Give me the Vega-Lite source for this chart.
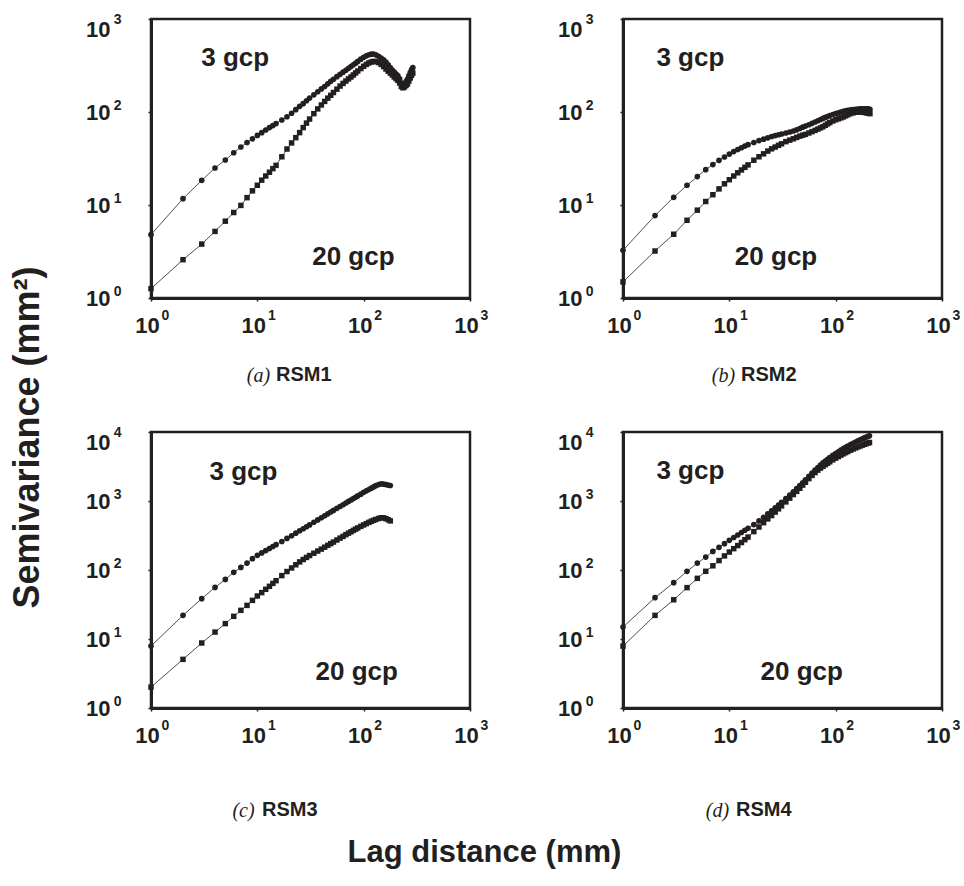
{
"$schema": "https://vega.github.io/schema/vega-lite/v6.json",
"background": "white",
"padding": {"left": 7, "top": 10, "right": 5, "bottom": 5},
"title": {"text": "Lag distance (mm)", "orient": "bottom", "anchor": "middle", "font": "Liberation Sans", "fontSize": 31, "fontWeight": "bold", "color": "#231f20", "offset": 17},
"config": {
 "view": {"stroke": "#231f20", "strokeWidth": 2.5},
 "axis": {"grid": false, "domainColor": "#231f20", "domainWidth": 3, "tickColor": "#231f20", "tickSize": 3, "tickWidth": 1.5, "labelFont": "Liberation Sans", "labelFontWeight": "bold", "labelFontSize": 22, "labelColor": "#231f20", "titleColor": "#231f20", "labelFlush": false, "labelOverlap": false}
},
"datasets": {
 "lab": [
  {"p":"a","t":"3 gcp","x":6.2,"y":380},{"p":"a","t":"20 gcp","x":80,"y":2.76},
  {"p":"b","t":"3 gcp","x":4.3,"y":380},{"p":"b","t":"20 gcp","x":27.5,"y":2.76},
  {"p":"c","t":"3 gcp","x":7.4,"y":2630},{"p":"c","t":"20 gcp","x":86,"y":3.3},
  {"p":"d","t":"3 gcp","x":4.3,"y":2750},{"p":"d","t":"20 gcp","x":48,"y":3.3}
 ],
 "a": [
  {"g":"3","x":1,"y":4.8},{"g":"3","x":2,"y":11.7},{"g":"3","x":3,"y":18.4},{"g":"3","x":4,"y":25},{"g":"3","x":5,"y":30.5},{"g":"3","x":6,"y":36.5},{"g":"3","x":7,"y":42},{"g":"3","x":8,"y":47},{"g":"3","x":9,"y":51.5},{"g":"3","x":10,"y":56},{"g":"3","x":11,"y":60},{"g":"3","x":12,"y":64},{"g":"3","x":13,"y":68},{"g":"3","x":14,"y":71.5},{"g":"3","x":15,"y":75},{"g":"3","x":17,"y":82},{"g":"3","x":19,"y":89},{"g":"3","x":21,"y":97},{"g":"3","x":23,"y":106},{"g":"3","x":25,"y":115},{"g":"3","x":27,"y":123},{"g":"3","x":29,"y":132},{"g":"3","x":31,"y":141},{"g":"3","x":34,"y":153},{"g":"3","x":37,"y":165},{"g":"3","x":40,"y":177},{"g":"3","x":43,"y":188},{"g":"3","x":46,"y":201},{"g":"3","x":49,"y":214},{"g":"3","x":52,"y":225},{"g":"3","x":56,"y":240},{"g":"3","x":60,"y":254},{"g":"3","x":64,"y":268},{"g":"3","x":68,"y":281},{"g":"3","x":72,"y":295},{"g":"3","x":76,"y":308},{"g":"3","x":80,"y":322},{"g":"3","x":84,"y":335},{"g":"3","x":88,"y":350},{"g":"3","x":94,"y":370},{"g":"3","x":100,"y":388},{"g":"3","x":106,"y":402},{"g":"3","x":112,"y":413},{"g":"3","x":118,"y":419},{"g":"3","x":124,"y":420},{"g":"3","x":130,"y":412},{"g":"3","x":138,"y":398},{"g":"3","x":146,"y":380},{"g":"3","x":154,"y":365},{"g":"3","x":162,"y":345},{"g":"3","x":170,"y":322},{"g":"3","x":178,"y":300},{"g":"3","x":186,"y":282},{"g":"3","x":194,"y":268},{"g":"3","x":202,"y":256},{"g":"3","x":210,"y":245},{"g":"3","x":218,"y":228},{"g":"3","x":226,"y":205},{"g":"3","x":234,"y":190},{"g":"3","x":242,"y":196},{"g":"3","x":250,"y":212},{"g":"3","x":258,"y":226},{"g":"3","x":266,"y":245},{"g":"3","x":274,"y":265},{"g":"3","x":282,"y":285},{"g":"3","x":290,"y":300},
  {"g":"20","x":1,"y":1.26},{"g":"20","x":2,"y":2.58},{"g":"20","x":3,"y":3.8},{"g":"20","x":4,"y":5.2},{"g":"20","x":5,"y":6.7},{"g":"20","x":6,"y":8.3},{"g":"20","x":7,"y":9.9},{"g":"20","x":8,"y":12},{"g":"20","x":9,"y":14.2},{"g":"20","x":10,"y":16.3},{"g":"20","x":11,"y":18.5},{"g":"20","x":12,"y":20.5},{"g":"20","x":13,"y":22.5},{"g":"20","x":14,"y":24.6},{"g":"20","x":15,"y":26.7},{"g":"20","x":17,"y":33},{"g":"20","x":19,"y":40},{"g":"20","x":21,"y":46.5},{"g":"20","x":23,"y":53},{"g":"20","x":25,"y":60},{"g":"20","x":27,"y":68},{"g":"20","x":29,"y":76},{"g":"20","x":31,"y":84},{"g":"20","x":34,"y":96},{"g":"20","x":37,"y":108},{"g":"20","x":40,"y":119},{"g":"20","x":43,"y":130},{"g":"20","x":46,"y":141},{"g":"20","x":49,"y":151},{"g":"20","x":52,"y":162},{"g":"20","x":56,"y":176},{"g":"20","x":60,"y":190},{"g":"20","x":64,"y":203},{"g":"20","x":68,"y":215},{"g":"20","x":72,"y":227},{"g":"20","x":76,"y":238},{"g":"20","x":80,"y":250},{"g":"20","x":84,"y":263},{"g":"20","x":88,"y":276},{"g":"20","x":94,"y":293},{"g":"20","x":100,"y":310},{"g":"20","x":106,"y":325},{"g":"20","x":112,"y":337},{"g":"20","x":118,"y":345},{"g":"20","x":124,"y":350},{"g":"20","x":130,"y":348},{"g":"20","x":138,"y":340},{"g":"20","x":146,"y":325},{"g":"20","x":154,"y":308},{"g":"20","x":162,"y":290},{"g":"20","x":170,"y":275},{"g":"20","x":178,"y":262},{"g":"20","x":186,"y":250},{"g":"20","x":194,"y":238},{"g":"20","x":202,"y":228},{"g":"20","x":210,"y":219},{"g":"20","x":218,"y":205},{"g":"20","x":226,"y":188},{"g":"20","x":234,"y":182},{"g":"20","x":242,"y":186},{"g":"20","x":250,"y":193},{"g":"20","x":258,"y":200},{"g":"20","x":266,"y":215},{"g":"20","x":274,"y":232},{"g":"20","x":282,"y":248},{"g":"20","x":290,"y":262}
 ],
 "b": [
  {"g":"3","x":1,"y":3.26},{"g":"3","x":2,"y":7.7},{"g":"3","x":3,"y":12.1},{"g":"3","x":4,"y":16.3},{"g":"3","x":5,"y":20.2},{"g":"3","x":6,"y":24},{"g":"3","x":7,"y":27.2},{"g":"3","x":8,"y":30.2},{"g":"3","x":9,"y":32.8},{"g":"3","x":10,"y":35.3},{"g":"3","x":11,"y":37.5},{"g":"3","x":12,"y":39.5},{"g":"3","x":13,"y":41.3},{"g":"3","x":14,"y":43},{"g":"3","x":15,"y":44.5},{"g":"3","x":17,"y":47},{"g":"3","x":19,"y":49.3},{"g":"3","x":21,"y":51},{"g":"3","x":23,"y":52.7},{"g":"3","x":25,"y":54.5},{"g":"3","x":27,"y":55.8},{"g":"3","x":29,"y":57},{"g":"3","x":31,"y":58},{"g":"3","x":34,"y":59.5},{"g":"3","x":37,"y":61},{"g":"3","x":40,"y":62.5},{"g":"3","x":43,"y":64.3},{"g":"3","x":46,"y":66.5},{"g":"3","x":49,"y":68.7},{"g":"3","x":52,"y":70.5},{"g":"3","x":56,"y":73},{"g":"3","x":60,"y":75.5},{"g":"3","x":64,"y":78},{"g":"3","x":68,"y":80.5},{"g":"3","x":72,"y":83},{"g":"3","x":76,"y":85.3},{"g":"3","x":80,"y":87.5},{"g":"3","x":84,"y":89.5},{"g":"3","x":88,"y":91.5},{"g":"3","x":94,"y":94},{"g":"3","x":100,"y":96.3},{"g":"3","x":106,"y":98},{"g":"3","x":112,"y":100},{"g":"3","x":118,"y":101.5},{"g":"3","x":124,"y":103},{"g":"3","x":130,"y":104.5},{"g":"3","x":138,"y":105.5},{"g":"3","x":146,"y":106.5},{"g":"3","x":154,"y":107},{"g":"3","x":162,"y":107.5},{"g":"3","x":170,"y":108},{"g":"3","x":178,"y":108},{"g":"3","x":186,"y":108},{"g":"3","x":194,"y":108.5},{"g":"3","x":202,"y":108},{"g":"3","x":210,"y":107},
  {"g":"20","x":1,"y":1.49},{"g":"20","x":2,"y":3.2},{"g":"20","x":3,"y":4.85},{"g":"20","x":4,"y":6.85},{"g":"20","x":5,"y":8.8},{"g":"20","x":6,"y":10.9},{"g":"20","x":7,"y":12.9},{"g":"20","x":8,"y":14.9},{"g":"20","x":9,"y":16.9},{"g":"20","x":10,"y":18.7},{"g":"20","x":11,"y":20.5},{"g":"20","x":12,"y":22.2},{"g":"20","x":13,"y":23.8},{"g":"20","x":14,"y":25.4},{"g":"20","x":15,"y":27},{"g":"20","x":17,"y":30.3},{"g":"20","x":19,"y":33},{"g":"20","x":21,"y":35.5},{"g":"20","x":23,"y":38},{"g":"20","x":25,"y":40.2},{"g":"20","x":27,"y":42},{"g":"20","x":29,"y":43.8},{"g":"20","x":31,"y":45.5},{"g":"20","x":34,"y":48},{"g":"20","x":37,"y":49.8},{"g":"20","x":40,"y":51.5},{"g":"20","x":43,"y":53.3},{"g":"20","x":46,"y":55},{"g":"20","x":49,"y":56.3},{"g":"20","x":52,"y":57.5},{"g":"20","x":56,"y":59.5},{"g":"20","x":60,"y":61.5},{"g":"20","x":64,"y":63.5},{"g":"20","x":68,"y":65.5},{"g":"20","x":72,"y":67.5},{"g":"20","x":76,"y":69.5},{"g":"20","x":80,"y":72},{"g":"20","x":84,"y":74.5},{"g":"20","x":88,"y":77},{"g":"20","x":94,"y":80},{"g":"20","x":100,"y":82.5},{"g":"20","x":106,"y":84.5},{"g":"20","x":112,"y":86.5},{"g":"20","x":118,"y":88.5},{"g":"20","x":124,"y":91},{"g":"20","x":130,"y":93.5},{"g":"20","x":138,"y":96},{"g":"20","x":146,"y":98},{"g":"20","x":154,"y":99.5},{"g":"20","x":162,"y":100},{"g":"20","x":170,"y":100},{"g":"20","x":178,"y":99.5},{"g":"20","x":186,"y":99},{"g":"20","x":194,"y":98},{"g":"20","x":202,"y":97},{"g":"20","x":210,"y":96}
 ],
 "c": [
  {"g":"3","x":1,"y":7.9},{"g":"3","x":2,"y":22},{"g":"3","x":3,"y":38.4},{"g":"3","x":4,"y":56},{"g":"3","x":5,"y":73},{"g":"3","x":6,"y":92.5},{"g":"3","x":7,"y":109},{"g":"3","x":8,"y":126},{"g":"3","x":9,"y":146},{"g":"3","x":10,"y":163},{"g":"3","x":11,"y":177},{"g":"3","x":12,"y":191},{"g":"3","x":13,"y":205},{"g":"3","x":14,"y":219},{"g":"3","x":15,"y":233},{"g":"3","x":17,"y":259},{"g":"3","x":19,"y":287},{"g":"3","x":21,"y":314},{"g":"3","x":23,"y":342},{"g":"3","x":25,"y":370},{"g":"3","x":27,"y":396},{"g":"3","x":29,"y":423},{"g":"3","x":31,"y":450},{"g":"3","x":34,"y":492},{"g":"3","x":37,"y":532},{"g":"3","x":40,"y":572},{"g":"3","x":43,"y":612},{"g":"3","x":46,"y":652},{"g":"3","x":49,"y":692},{"g":"3","x":52,"y":730},{"g":"3","x":56,"y":782},{"g":"3","x":60,"y":833},{"g":"3","x":64,"y":883},{"g":"3","x":68,"y":935},{"g":"3","x":72,"y":985},{"g":"3","x":76,"y":1035},{"g":"3","x":80,"y":1085},{"g":"3","x":84,"y":1135},{"g":"3","x":88,"y":1185},{"g":"3","x":94,"y":1255},{"g":"3","x":100,"y":1335},{"g":"3","x":106,"y":1405},{"g":"3","x":112,"y":1470},{"g":"3","x":118,"y":1535},{"g":"3","x":124,"y":1600},{"g":"3","x":130,"y":1670},{"g":"3","x":138,"y":1730},{"g":"3","x":146,"y":1770},{"g":"3","x":154,"y":1760},{"g":"3","x":162,"y":1730},{"g":"3","x":170,"y":1700},{"g":"3","x":178,"y":1680},
  {"g":"20","x":1,"y":2.01},{"g":"20","x":2,"y":5.07},{"g":"20","x":3,"y":8.75},{"g":"20","x":4,"y":12.6},{"g":"20","x":5,"y":16.7},{"g":"20","x":6,"y":21.3},{"g":"20","x":7,"y":26},{"g":"20","x":8,"y":30.7},{"g":"20","x":9,"y":36.3},{"g":"20","x":10,"y":42},{"g":"20","x":11,"y":47},{"g":"20","x":12,"y":52.5},{"g":"20","x":13,"y":58},{"g":"20","x":14,"y":64},{"g":"20","x":15,"y":70},{"g":"20","x":17,"y":83},{"g":"20","x":19,"y":95},{"g":"20","x":21,"y":107},{"g":"20","x":23,"y":119},{"g":"20","x":25,"y":131},{"g":"20","x":27,"y":142},{"g":"20","x":29,"y":152},{"g":"20","x":31,"y":162},{"g":"20","x":34,"y":175},{"g":"20","x":37,"y":188},{"g":"20","x":40,"y":201},{"g":"20","x":43,"y":214},{"g":"20","x":46,"y":228},{"g":"20","x":49,"y":241},{"g":"20","x":52,"y":254},{"g":"20","x":56,"y":272},{"g":"20","x":60,"y":290},{"g":"20","x":64,"y":307},{"g":"20","x":68,"y":325},{"g":"20","x":72,"y":342},{"g":"20","x":76,"y":358},{"g":"20","x":80,"y":375},{"g":"20","x":84,"y":391},{"g":"20","x":88,"y":407},{"g":"20","x":94,"y":429},{"g":"20","x":100,"y":450},{"g":"20","x":106,"y":470},{"g":"20","x":112,"y":490},{"g":"20","x":118,"y":508},{"g":"20","x":124,"y":525},{"g":"20","x":130,"y":540},{"g":"20","x":138,"y":558},{"g":"20","x":146,"y":572},{"g":"20","x":154,"y":570},{"g":"20","x":162,"y":555},{"g":"20","x":170,"y":535},{"g":"20","x":178,"y":515}
 ],
 "d": [
  {"g":"3","x":1,"y":14.9},{"g":"3","x":2,"y":39.7},{"g":"3","x":3,"y":65.5},{"g":"3","x":4,"y":95.6},{"g":"3","x":5,"y":126},{"g":"3","x":6,"y":154},{"g":"3","x":7,"y":186},{"g":"3","x":8,"y":213},{"g":"3","x":9,"y":241},{"g":"3","x":10,"y":269},{"g":"3","x":11,"y":296},{"g":"3","x":12,"y":322},{"g":"3","x":13,"y":350},{"g":"3","x":14,"y":377},{"g":"3","x":15,"y":403},{"g":"3","x":17,"y":455},{"g":"3","x":19,"y":515},{"g":"3","x":21,"y":580},{"g":"3","x":23,"y":650},{"g":"3","x":25,"y":720},{"g":"3","x":27,"y":795},{"g":"3","x":29,"y":875},{"g":"3","x":31,"y":955},{"g":"3","x":34,"y":1080},{"g":"3","x":37,"y":1215},{"g":"3","x":40,"y":1360},{"g":"3","x":43,"y":1510},{"g":"3","x":46,"y":1670},{"g":"3","x":49,"y":1840},{"g":"3","x":52,"y":2020},{"g":"3","x":56,"y":2270},{"g":"3","x":60,"y":2530},{"g":"3","x":64,"y":2800},{"g":"3","x":68,"y":3060},{"g":"3","x":72,"y":3320},{"g":"3","x":76,"y":3560},{"g":"3","x":80,"y":3800},{"g":"3","x":84,"y":4030},{"g":"3","x":88,"y":4260},{"g":"3","x":94,"y":4580},{"g":"3","x":100,"y":4880},{"g":"3","x":106,"y":5180},{"g":"3","x":112,"y":5470},{"g":"3","x":118,"y":5740},{"g":"3","x":124,"y":6000},{"g":"3","x":130,"y":6250},{"g":"3","x":138,"y":6570},{"g":"3","x":146,"y":6880},{"g":"3","x":154,"y":7170},{"g":"3","x":162,"y":7440},{"g":"3","x":170,"y":7700},{"g":"3","x":178,"y":7950},{"g":"3","x":186,"y":8200},{"g":"3","x":194,"y":8430},{"g":"3","x":202,"y":8650},{"g":"3","x":208,"y":8800},
  {"g":"20","x":1,"y":7.9},{"g":"20","x":2,"y":22},{"g":"20","x":3,"y":37},{"g":"20","x":4,"y":55.5},{"g":"20","x":5,"y":75.7},{"g":"20","x":6,"y":95.7},{"g":"20","x":7,"y":115},{"g":"20","x":8,"y":137},{"g":"20","x":9,"y":160},{"g":"20","x":10,"y":182},{"g":"20","x":11,"y":204},{"g":"20","x":12,"y":226},{"g":"20","x":13,"y":250},{"g":"20","x":14,"y":275},{"g":"20","x":15,"y":300},{"g":"20","x":17,"y":360},{"g":"20","x":19,"y":420},{"g":"20","x":21,"y":485},{"g":"20","x":23,"y":550},{"g":"20","x":25,"y":615},{"g":"20","x":27,"y":690},{"g":"20","x":29,"y":770},{"g":"20","x":31,"y":850},{"g":"20","x":34,"y":970},{"g":"20","x":37,"y":1100},{"g":"20","x":40,"y":1240},{"g":"20","x":43,"y":1380},{"g":"20","x":46,"y":1530},{"g":"20","x":49,"y":1700},{"g":"20","x":52,"y":1870},{"g":"20","x":56,"y":2110},{"g":"20","x":60,"y":2350},{"g":"20","x":64,"y":2580},{"g":"20","x":68,"y":2800},{"g":"20","x":72,"y":3000},{"g":"20","x":76,"y":3180},{"g":"20","x":80,"y":3360},{"g":"20","x":84,"y":3530},{"g":"20","x":88,"y":3700},{"g":"20","x":94,"y":3950},{"g":"20","x":100,"y":4180},{"g":"20","x":106,"y":4400},{"g":"20","x":112,"y":4620},{"g":"20","x":118,"y":4830},{"g":"20","x":124,"y":5030},{"g":"20","x":130,"y":5220},{"g":"20","x":138,"y":5450},{"g":"20","x":146,"y":5670},{"g":"20","x":154,"y":5880},{"g":"20","x":162,"y":6080},{"g":"20","x":170,"y":6270},{"g":"20","x":178,"y":6450},{"g":"20","x":186,"y":6620},{"g":"20","x":194,"y":6780},{"g":"20","x":202,"y":6930},{"g":"20","x":208,"y":7050}
 ]
},
"concat": [
 {
  "width": 319, "height": 279,
  "title": {"text": "RSM1", "orient": "bottom", "anchor": "start", "frame": "group", "dx": 125, "offset": -20, "font": "Liberation Sans", "fontSize": 20, "fontWeight": "bold", "color": "#231f20"},
  "resolve": {"axis": {"x": "independent", "y": "independent"}},
  "layer": [
   {"data": {"name": "a"}, "mark": {"type": "line", "color": "#231f20", "strokeWidth": 0.8},
    "encoding": {
     "x": {"field": "x", "type": "quantitative", "scale": {"type": "log", "domain": [1, 1000], "nice": false},
       "axis": {"orient": "bottom", "values": [1, 10, 100, 1000], "labelExpr": "'10'", "labelOffset": -4, "labelPadding": 14, "title": "(a)", "titleFont": "Liberation Serif", "titleFontStyle": "italic", "titleFontWeight": "normal", "titleFontSize": 20, "titleX": 107, "titleY": 77, "titleBaseline": "middle", "titleAlign": "center"}},
     "y": {"field": "y", "type": "quantitative", "scale": {"type": "log", "domain": [1, 1000], "nice": false},
       "axis": {"orient": "left", "values": [1, 10, 100, 1000], "labelExpr": "'10'", "labelPadding": 38, "labelBaseline": {"condition": {"test": "datum.value >= 1000", "value": "top"}, "value": "middle"}, "title": null}},
     "detail": {"field": "g"}
    }},
   {"data": {"name": "a"}, "mark": {"type": "point", "filled": true, "color": "#231f20", "opacity": 1},
    "encoding": {
     "x": {"field": "x", "type": "quantitative", "axis": {"orient": "bottom", "values": [1, 10, 100, 1000], "labelExpr": "datum.value >= 1000 ? '3' : datum.value >= 100 ? '2' : datum.value >= 10 ? '1' : '0'", "labelFontSize": 14, "labelOffset": 14, "labelPadding": 10, "domain": false, "ticks": false, "title": null}},
     "y": {"field": "y", "type": "quantitative", "axis": {"orient": "left", "values": [1, 10, 100, 1000], "labelExpr": "datum.value >= 1000 ? '3' : datum.value >= 100 ? '2' : datum.value >= 10 ? '1' : '0'", "labelFontSize": 14, "labelPadding": 30, "labelOffset": -7, "labelBaseline": {"condition": {"test": "datum.value >= 1000", "value": "top"}, "value": "middle"}, "domain": false, "ticks": false, "title": null}},
     "shape": {"field": "g", "type": "nominal", "scale": {"domain": ["3", "20"], "range": ["circle", "square"]}, "legend": null},
     "size": {"field": "g", "type": "nominal", "scale": {"domain": ["3", "20"], "range": [32, 30]}, "legend": null}}},
   {"data": {"name": "lab"}, "transform": [{"filter": "datum.p == 'a'"}], "mark": {"type": "text", "font": "Liberation Sans", "fontSize": 26, "fontWeight": "bold", "color": "#231f20", "baseline": "middle", "align": "center"},
    "encoding": {"x": {"field": "x", "type": "quantitative", "axis": null}, "y": {"field": "y", "type": "quantitative", "axis": null}, "text": {"field": "t"}}}
  ]
 },
 {
  "width": 319, "height": 279,
  "title": {"text": "RSM2", "orient": "bottom", "anchor": "start", "frame": "group", "dx": 118, "offset": -20, "font": "Liberation Sans", "fontSize": 20, "fontWeight": "bold", "color": "#231f20"},
  "resolve": {"axis": {"x": "independent", "y": "independent"}},
  "layer": [
   {"data": {"name": "b"}, "mark": {"type": "line", "color": "#231f20", "strokeWidth": 0.8},
    "encoding": {
     "x": {"field": "x", "type": "quantitative", "scale": {"type": "log", "domain": [1, 1000], "nice": false},
       "axis": {"orient": "bottom", "values": [1, 10, 100, 1000], "labelExpr": "'10'", "labelOffset": -4, "labelPadding": 14, "title": "(b)", "titleFont": "Liberation Serif", "titleFontStyle": "italic", "titleFontWeight": "normal", "titleFontSize": 20, "titleX": 100, "titleY": 77, "titleBaseline": "middle", "titleAlign": "center"}},
     "y": {"field": "y", "type": "quantitative", "scale": {"type": "log", "domain": [1, 1000], "nice": false},
       "axis": {"orient": "left", "values": [1, 10, 100, 1000], "labelExpr": "'10'", "labelPadding": 38, "labelBaseline": {"condition": {"test": "datum.value >= 1000", "value": "top"}, "value": "middle"}, "title": null}},
     "detail": {"field": "g"}
    }},
   {"data": {"name": "b"}, "mark": {"type": "point", "filled": true, "color": "#231f20", "opacity": 1},
    "encoding": {
     "x": {"field": "x", "type": "quantitative", "axis": {"orient": "bottom", "values": [1, 10, 100, 1000], "labelExpr": "datum.value >= 1000 ? '3' : datum.value >= 100 ? '2' : datum.value >= 10 ? '1' : '0'", "labelFontSize": 14, "labelOffset": 14, "labelPadding": 10, "domain": false, "ticks": false, "title": null}},
     "y": {"field": "y", "type": "quantitative", "axis": {"orient": "left", "values": [1, 10, 100, 1000], "labelExpr": "datum.value >= 1000 ? '3' : datum.value >= 100 ? '2' : datum.value >= 10 ? '1' : '0'", "labelFontSize": 14, "labelPadding": 30, "labelOffset": -7, "labelBaseline": {"condition": {"test": "datum.value >= 1000", "value": "top"}, "value": "middle"}, "domain": false, "ticks": false, "title": null}},
     "shape": {"field": "g", "type": "nominal", "scale": {"domain": ["3", "20"], "range": ["circle", "square"]}, "legend": null},
     "size": {"field": "g", "type": "nominal", "scale": {"domain": ["3", "20"], "range": [32, 30]}, "legend": null}}},
   {"data": {"name": "lab"}, "transform": [{"filter": "datum.p == 'b'"}], "mark": {"type": "text", "font": "Liberation Sans", "fontSize": 26, "fontWeight": "bold", "color": "#231f20", "baseline": "middle", "align": "center"},
    "encoding": {"x": {"field": "x", "type": "quantitative", "axis": null}, "y": {"field": "y", "type": "quantitative", "axis": null}, "text": {"field": "t"}}}
  ]
 },
 {
  "width": 319, "height": 276,
  "title": {"text": "RSM3", "orient": "bottom", "anchor": "start", "frame": "group", "dx": 111, "offset": -20, "font": "Liberation Sans", "fontSize": 20, "fontWeight": "bold", "color": "#231f20"},
  "resolve": {"axis": {"x": "independent", "y": "independent"}},
  "layer": [
   {"data": {"name": "c"}, "mark": {"type": "line", "color": "#231f20", "strokeWidth": 0.8},
    "encoding": {
     "x": {"field": "x", "type": "quantitative", "scale": {"type": "log", "domain": [1, 1000], "nice": false},
       "axis": {"orient": "bottom", "values": [1, 10, 100, 1000], "labelExpr": "'10'", "labelOffset": -4, "labelPadding": 14, "title": "(c)", "titleFont": "Liberation Serif", "titleFontStyle": "italic", "titleFontWeight": "normal", "titleFontSize": 20, "titleX": 92, "titleY": 102, "titleBaseline": "middle", "titleAlign": "center"}},
     "y": {"field": "y", "type": "quantitative", "scale": {"type": "log", "domain": [1, 10000], "nice": false},
       "axis": {"orient": "left", "values": [1, 10, 100, 1000, 10000], "labelExpr": "'10'", "labelPadding": 38, "labelBaseline": {"condition": {"test": "datum.value >= 10000", "value": "top"}, "value": "middle"}, "title": "Semivariance (mm²)", "titleFont": "Liberation Sans", "titleFontWeight": "bold", "titleFontSize": 36, "titleX": -124, "titleY": 5, "titleAngle": 270, "titleBaseline": "middle", "titleAlign": "center"}},
     "detail": {"field": "g"}
    }},
   {"data": {"name": "c"}, "mark": {"type": "point", "filled": true, "color": "#231f20", "opacity": 1},
    "encoding": {
     "x": {"field": "x", "type": "quantitative", "axis": {"orient": "bottom", "values": [1, 10, 100, 1000], "labelExpr": "datum.value >= 1000 ? '3' : datum.value >= 100 ? '2' : datum.value >= 10 ? '1' : '0'", "labelFontSize": 14, "labelOffset": 14, "labelPadding": 10, "domain": false, "ticks": false, "title": null}},
     "y": {"field": "y", "type": "quantitative", "axis": {"orient": "left", "values": [1, 10, 100, 1000, 10000], "labelExpr": "datum.value >= 10000 ? '4' : datum.value >= 1000 ? '3' : datum.value >= 100 ? '2' : datum.value >= 10 ? '1' : '0'", "labelFontSize": 14, "labelPadding": 30, "labelOffset": -7, "labelBaseline": {"condition": {"test": "datum.value >= 10000", "value": "top"}, "value": "middle"}, "domain": false, "ticks": false, "title": null}},
     "shape": {"field": "g", "type": "nominal", "scale": {"domain": ["3", "20"], "range": ["circle", "square"]}, "legend": null},
     "size": {"field": "g", "type": "nominal", "scale": {"domain": ["3", "20"], "range": [32, 30]}, "legend": null}}},
   {"data": {"name": "lab"}, "transform": [{"filter": "datum.p == 'c'"}], "mark": {"type": "text", "font": "Liberation Sans", "fontSize": 26, "fontWeight": "bold", "color": "#231f20", "baseline": "middle", "align": "center"},
    "encoding": {"x": {"field": "x", "type": "quantitative", "axis": null}, "y": {"field": "y", "type": "quantitative", "axis": null}, "text": {"field": "t"}}}
  ]
 },
 {
  "width": 319, "height": 276,
  "title": {"text": "RSM4", "orient": "bottom", "anchor": "start", "frame": "group", "dx": 113, "offset": -20, "font": "Liberation Sans", "fontSize": 20, "fontWeight": "bold", "color": "#231f20"},
  "resolve": {"axis": {"x": "independent", "y": "independent"}},
  "layer": [
   {"data": {"name": "d"}, "mark": {"type": "line", "color": "#231f20", "strokeWidth": 0.8},
    "encoding": {
     "x": {"field": "x", "type": "quantitative", "scale": {"type": "log", "domain": [1, 1000], "nice": false},
       "axis": {"orient": "bottom", "values": [1, 10, 100, 1000], "labelExpr": "'10'", "labelOffset": -4, "labelPadding": 14, "title": "(d)", "titleFont": "Liberation Serif", "titleFontStyle": "italic", "titleFontWeight": "normal", "titleFontSize": 20, "titleX": 94, "titleY": 102, "titleBaseline": "middle", "titleAlign": "center"}},
     "y": {"field": "y", "type": "quantitative", "scale": {"type": "log", "domain": [1, 10000], "nice": false},
       "axis": {"orient": "left", "values": [1, 10, 100, 1000, 10000], "labelExpr": "'10'", "labelPadding": 38, "labelBaseline": {"condition": {"test": "datum.value >= 10000", "value": "top"}, "value": "middle"}, "title": null}},
     "detail": {"field": "g"}
    }},
   {"data": {"name": "d"}, "mark": {"type": "point", "filled": true, "color": "#231f20", "opacity": 1},
    "encoding": {
     "x": {"field": "x", "type": "quantitative", "axis": {"orient": "bottom", "values": [1, 10, 100, 1000], "labelExpr": "datum.value >= 1000 ? '3' : datum.value >= 100 ? '2' : datum.value >= 10 ? '1' : '0'", "labelFontSize": 14, "labelOffset": 14, "labelPadding": 10, "domain": false, "ticks": false, "title": null}},
     "y": {"field": "y", "type": "quantitative", "axis": {"orient": "left", "values": [1, 10, 100, 1000, 10000], "labelExpr": "datum.value >= 10000 ? '4' : datum.value >= 1000 ? '3' : datum.value >= 100 ? '2' : datum.value >= 10 ? '1' : '0'", "labelFontSize": 14, "labelPadding": 30, "labelOffset": -7, "labelBaseline": {"condition": {"test": "datum.value >= 10000", "value": "top"}, "value": "middle"}, "domain": false, "ticks": false, "title": null}},
     "shape": {"field": "g", "type": "nominal", "scale": {"domain": ["3", "20"], "range": ["circle", "square"]}, "legend": null},
     "size": {"field": "g", "type": "nominal", "scale": {"domain": ["3", "20"], "range": [32, 30]}, "legend": null}}},
   {"data": {"name": "lab"}, "transform": [{"filter": "datum.p == 'd'"}], "mark": {"type": "text", "font": "Liberation Sans", "fontSize": 26, "fontWeight": "bold", "color": "#231f20", "baseline": "middle", "align": "center"},
    "encoding": {"x": {"field": "x", "type": "quantitative", "axis": null}, "y": {"field": "y", "type": "quantitative", "axis": null}, "text": {"field": "t"}}}
  ]
 }
],
"columns": 2,
"spacing": {"row": 134, "column": 153},
"bounds": "flush"
}
